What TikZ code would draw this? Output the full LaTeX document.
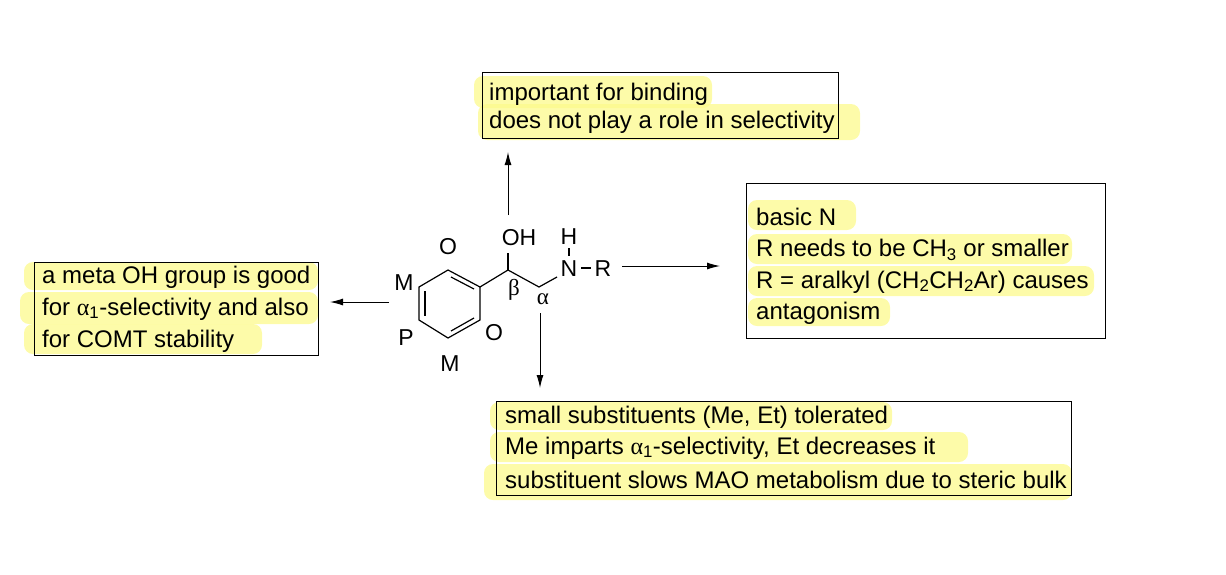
\documentclass[tikz,border=0pt]{standalone}
\usepackage{fontspec}
\setmainfont{Liberation Sans}
\newfontfamily\grk{Liberation Serif}
\usetikzlibrary{arrows.meta}
\definecolor{hl}{RGB}{252,250,140}
\newcommand{\al}{{\grk α}}
\begin{document}
\begin{tikzpicture}[x=1pt,y=-1pt,
  txt/.style={anchor=west,inner sep=0pt,font=\fontsize{24}{28}\selectfont},
  lab/.style={inner sep=0pt,font=\fontsize{23}{26}\selectfont},
  gr/.style={inner sep=0pt,font=\fontsize{23}{26}\grk},
  box/.style={draw,line width=1pt},
  arr/.style={-{Latex[length=13pt,width=7pt]},line width=1pt},
  bond/.style={line width=1.2pt},
  hi/.style={fill=hl,opacity=0.75,rounded corners=9pt}]
\useasboundingbox (0,0) rectangle (1226,574);
% highlights
\fill[hi] (474,76) rectangle (712,108);
\fill[hi] (478,104) rectangle (860,140);
\fill[hi] (24,262) rectangle (318,290);
\fill[hi] (20,292) rectangle (318,324);
\fill[hi] (24,324) rectangle (262,354);
\fill[hi] (748,200) rectangle (856,230);
\fill[hi] (748,234) rectangle (1072,264);
\fill[hi] (748,266) rectangle (1094,296);
\fill[hi] (748,298) rectangle (890,326);
\fill[hi] (490,402) rectangle (892,430);
\fill[hi] (490,432) rectangle (968,462);
\fill[hi] (484,464) rectangle (1072,500);
% boxes
\draw[box] (482,72) rectangle (838,138);
\draw[box] (34,262) rectangle (318,355);
\draw[box] (746,183) rectangle (1105,338);
\draw[box] (496,401) rectangle (1071,495);
% texts
\node[txt] (t1) at (489,94) {important for binding};
\node[txt] (t2) at (489,122) {does not play a role in selectivity};
\node[txt] (l1) at (42,277) {a meta OH group is good};
\node[txt] (l2) at (42,309) {for \al\textsubscript{1}-selectivity and also};
\node[txt] (l3) at (42,341) {for COMT stability};
\node[txt] (r1) at (756,217) {basic N};
\node[txt] (r2) at (756,250) {R needs to be CH\textsubscript{3} or smaller};
\node[txt] (r3) at (756,282) {R = aralkyl (CH\textsubscript{2}CH\textsubscript{2}Ar) causes};
\node[txt] (r4) at (756,313) {antagonism};
\node[txt] (b1) at (505,417) {small substituents (Me, Et) tolerated};
\node[txt] (b2) at (505,448) {Me imparts \al\textsubscript{1}-selectivity, Et decreases it};
\node[txt] (b3) at (505,480) {substituent slows MAO metabolism due to steric bulk};
% molecule
\coordinate (c1) at (448,270);
\coordinate (c2) at (480,287);
\coordinate (c3) at (480,320);
\coordinate (c4) at (448,338);
\coordinate (c5) at (419,320);
\coordinate (c6) at (419,287);
\draw[bond] (c1)--(c2)--(c3)--(c4)--(c5)--(c6)--cycle;
\draw[bond] (451,277)--(474,289);
\draw[bond] (425,291)--(425,316);
\draw[bond] (451,331)--(474,318);
\coordinate (cb) at (508,270);
\coordinate (ca) at (539,287);
\draw[bond] (c2)--(cb)--(ca)--(557,277);
\draw[bond] (cb)--(508,253);
\node[lab] (oh) at (519,238) {OH};
\node[lab] (n) at (569,269) {N};
\node[lab] (h) at (569,237) {H};
\draw[bond] (569,248)--(569,256);
\draw[bond] (581,268)--(591,268);
\node[lab] (r) at (603,269) {R};
\node[gr] (be) at (514,290) {β};
\node[gr] (al) at (543,299) {α};
\node[lab] (o1) at (448,247) {O};
\node[lab] (o2) at (494,333) {O};
\node[lab] (m1) at (404,283) {M};
\node[lab] (p) at (406,338) {P};
\node[lab] (m2) at (450,364) {M};
% arrows
\coordinate (a1) at (508,215); \coordinate (a1e) at (508,152);
\coordinate (a2) at (389,302); \coordinate (a2e) at (330,302);
\coordinate (a3) at (622,266); \coordinate (a3e) at (720,266);
\coordinate (a4) at (540,313); \coordinate (a4e) at (540,388);
\draw[arr] (a1)--(a1e);
\draw[arr] (a2)--(a2e);
\draw[arr] (a3)--(a3e);
\draw[arr] (a4)--(a4e);
\end{tikzpicture}
\end{document}
